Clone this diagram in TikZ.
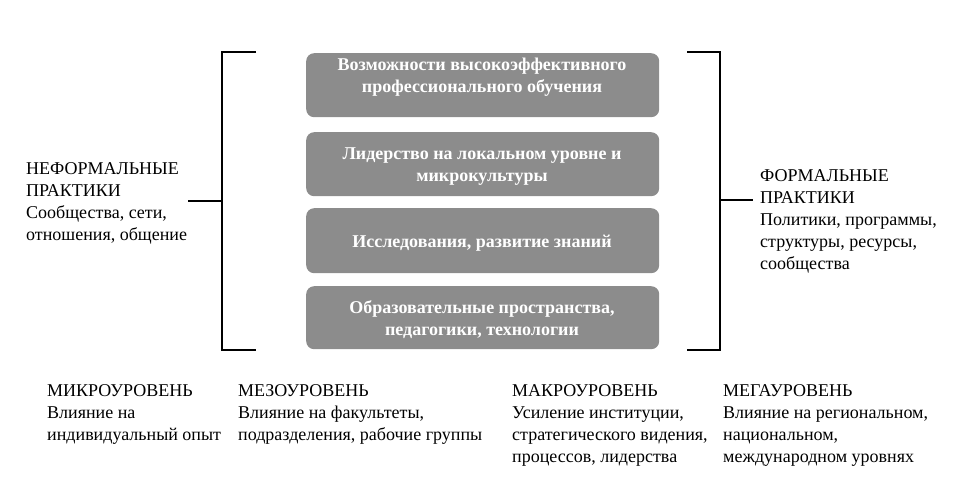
\documentclass[tikz,border=0pt]{standalone}
\usepackage{fontspec}
\setmainfont{Liberation Serif}
\begin{document}
\begin{tikzpicture}[x=1pt,y=-1pt,
  gbox/.style={draw=none,fill=boxgray,rounded corners=8pt,minimum width=353pt,anchor=north west,inner sep=0pt},
  btext/.style={text=white,font=\fontsize{18}{22}\selectfont\bfseries,align=center,inner sep=0pt},
  ltext/.style={font=\fontsize{18}{22}\selectfont,align=left,anchor=base west,inner sep=0pt},
  brk/.style={line width=1.5pt}]
\definecolor{boxgray}{HTML}{8C8C8C}
\useasboundingbox (0,0) rectangle (954,480);
% boxes
\node[gbox,minimum height=64pt] (b1) at (306,53) {};
\node[gbox,minimum height=64pt] (b2) at (306,132) {};
\node[gbox,minimum height=65pt] (b3) at (306,208) {};
\node[gbox,minimum height=63pt] (b4) at (306,286) {};
\node[btext] (t1) at (482,77) {Возможности высокоэффективного\\профессионального обучения};
\node[btext] (t2) at (482,167) {Лидерство на локальном уровне и\\микрокультуры};
\node[btext] (t3) at (482,243) {Исследования, развитие знаний};
\node[btext] (t4) at (482,320) {Образовательные пространства,\\педагогики, технологии};
% left bracket
\coordinate (lt) at (256,52);
\coordinate (ltc) at (222,52);
\coordinate (lbc) at (222,350);
\coordinate (lb) at (256,350);
\coordinate (lm) at (222,201);
\coordinate (ls) at (188,201);
\draw[brk] (lt) -- (ltc) -- (lbc) -- (lb);
\draw[brk] (lm) -- (ls);
% right bracket
\coordinate (rt) at (687,52);
\coordinate (rtc) at (720,52);
\coordinate (rbc) at (720,350);
\coordinate (rb) at (687,350);
\coordinate (rm) at (720,200);
\coordinate (rs) at (753,200);
\draw[brk] (rt) -- (rtc) -- (rbc) -- (rb);
\draw[brk] (rm) -- (rs);
% side texts (anchor = baseline of last line)
\node[ltext] (inf) at (26,240) {НЕФОРМАЛЬНЫЕ\\ПРАКТИКИ\\Сообщества, сети,\\отношения, общение};
\node[ltext] (form) at (760,269) {ФОРМАЛЬНЫЕ\\ПРАКТИКИ\\Политики, программы,\\структуры, ресурсы,\\сообщества};
% levels
\node[ltext] (micro) at (47,440) {МИКРОУРОВЕНЬ\\Влияние на\\индивидуальный опыт};
\node[ltext] (meso) at (238,440) {МЕЗОУРОВЕНЬ\\Влияние на факультеты,\\подразделения, рабочие группы};
\node[ltext] (macro) at (512,462) {МАКРОУРОВЕНЬ\\Усиление институции,\\стратегического видения,\\процессов, лидерства};
\node[ltext] (mega) at (723,462) {МЕГАУРОВЕНЬ\\Влияние на региональном,\\национальном,\\международном уровнях};
\end{tikzpicture}
\end{document}
